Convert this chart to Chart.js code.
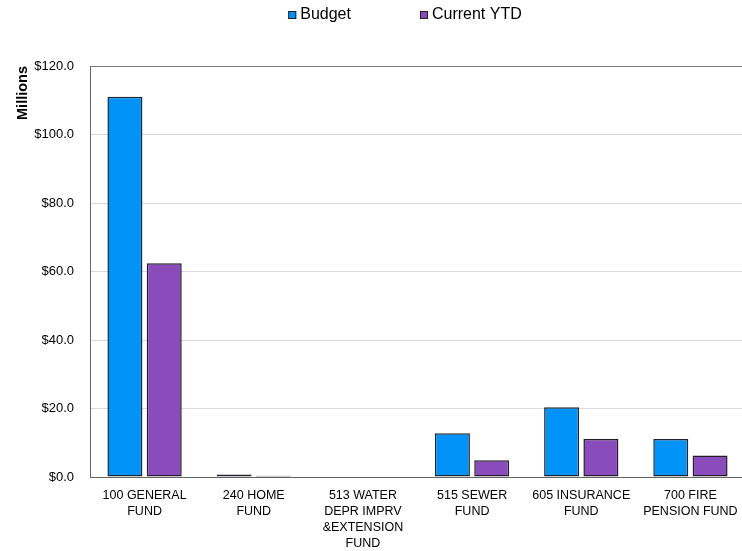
<!DOCTYPE html>
<html>
<head>
<meta charset="utf-8">
<script src="https://cdn.jsdelivr.net/npm/chart.js@4.4.1/dist/chart.umd.min.js"></script>
<style>
  html, body { margin: 0; padding: 0; background: #ffffff; overflow: hidden; }
  #wrap { position: relative; width: 750px; height: 551px; }
</style>
</head>
<body>
<div id="wrap"><canvas id="chart"></canvas></div>
<script>
// Fund names, split into the lines shown under each group
const funds = [
  ['100 GENERAL', 'FUND'],
  ['240 HOME', 'FUND'],
  ['513 WATER', 'DEPR IMPRV', '&EXTENSION', 'FUND'],
  ['515 SEWER', 'FUND'],
  ['605 INSURANCE', 'FUND'],
  ['700 FIRE', 'PENSION FUND']
];

// Amounts in millions of dollars
const budget = [111.0, 0.7, 0, 12.8, 20.4, 11.1];
const currentYTD = [62.4, 0.35, 0, 4.9, 11.1, 6.3];

const seriesNames = ['Budget', 'Current YTD'];
const yTicks = [0, 20, 40, 60, 80, 100, 120];

const FONT = "'Liberation Sans', Arial, sans-serif";
Chart.defaults.font.family = FONT;
Chart.defaults.color = '#000000';

// Legend row drawn across the top of the canvas
const topLegend = {
  id: 'topLegend',
  afterDraw(chart) {
    const ctx = chart.ctx;
    const box = 8, boxGap = 4, itemGap = 69;
    ctx.save();
    ctx.font = '16px ' + FONT;
    ctx.textBaseline = 'middle';
    const items = chart.data.datasets.map(ds => ({
      label: ds.label, color: ds.backgroundColor,
      w: box + boxGap + ctx.measureText(ds.label).width
    }));
    const total = items.reduce((s, it) => s + it.w, 0) + itemGap * (items.length - 1);
    let x = 405 - total / 2;
    const cy = 15;
    items.forEach(it => {
      ctx.fillStyle = it.color;
      ctx.fillRect(x, cy - box / 2, box, box);
      ctx.strokeStyle = '#222222';
      ctx.lineWidth = 1;
      ctx.strokeRect(x + 0.5, cy - box / 2 + 0.5, box - 1, box - 1);
      ctx.fillStyle = '#000000';
      ctx.textAlign = 'left';
      ctx.fillText(it.label, x + box + boxGap, cy);
      x += it.w + itemGap;
    });
    ctx.restore();
  }
};

new Chart(document.getElementById('chart'), {
  type: 'bar',
  data: {
    labels: funds,
    datasets: [
      {
        label: seriesNames[0],
        data: budget,
        backgroundColor: '#0092f7',
        borderColor: '#1c2630',
        borderWidth: 1.5,
        borderSkipped: false
      },
      {
        label: seriesNames[1],
        data: currentYTD,
        backgroundColor: '#8a4bbb',
        borderColor: '#241c2a',
        borderWidth: 1.5,
        borderSkipped: false
      }
    ]
  },
  options: {
    responsive: true,
    maintainAspectRatio: false,
    animation: false,
    events: [],
    layout: { padding: { left: 0, right: 5, top: 66, bottom: 0 } },
    datasets: { bar: { categoryPercentage: 0.72, barPercentage: 0.89 } },
    plugins: {
      legend: { display: false },
      tooltip: { enabled: false }
    },
    scales: {
      x: {
        afterFit(scale) { scale.height = 74; },
        grid: { display: false, drawTicks: false },
        border: { display: true, color: '#666666', width: 1 },
        ticks: {
          padding: 11,
          maxRotation: 0,
          autoSkip: false,
          color: '#000000',
          font: { size: 12.5, lineHeight: 1.28 }
        }
      },
      y: {
        min: 0,
        max: 120,
        afterFit(scale) { scale.width = 90; },
        afterBuildTicks(scale) { scale.ticks = yTicks.map(v => ({ value: v })); },
        grid: {
          drawTicks: false,
          color: ctx => (ctx.tick && ctx.tick.value === 120) ? '#777777' : '#d9d9d9',
          lineWidth: 1
        },
        border: { display: true, color: '#666666', width: 1 },
        ticks: {
          padding: 16,
          color: '#000000',
          font: { size: 13 },
          callback: v => '$' + Number(v).toFixed(1)
        },
        title: {
          display: true,
          text: 'Millions',
          align: 'end',
          color: '#000000',
          font: { size: 14.5, weight: 'bold' },
          padding: { top: 14, bottom: 0 }
        }
      }
    }
  },
  plugins: [topLegend]
});
</script>
</body>
</html>
